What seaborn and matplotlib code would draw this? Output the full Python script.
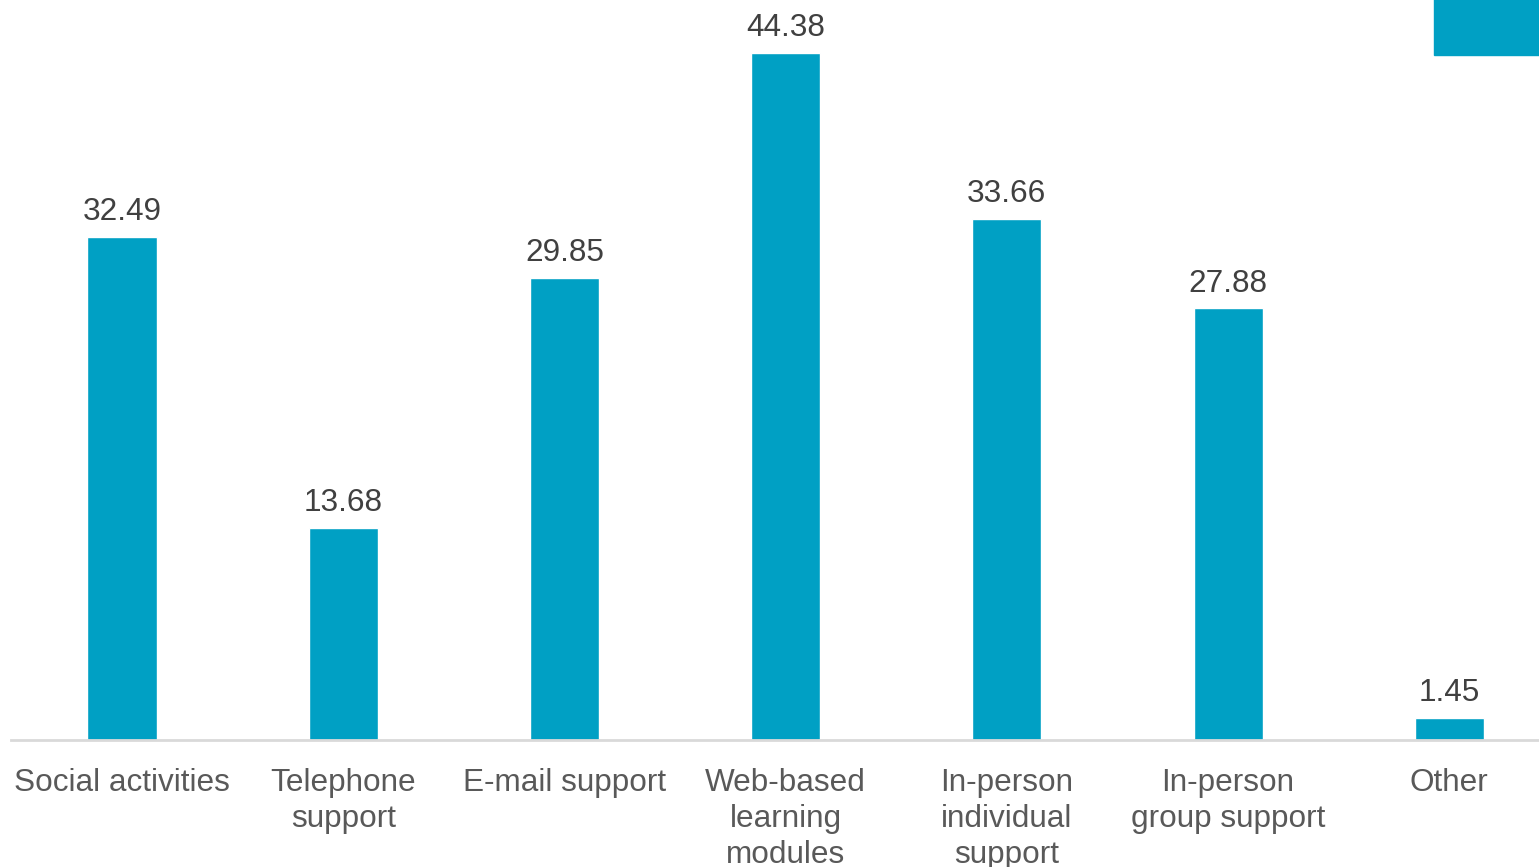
import matplotlib
matplotlib.use("Agg")
import matplotlib.pyplot as plt
from matplotlib.patches import Rectangle
import seaborn as sns
import pandas as pd

categories = ["Social activities", "Telephone\nsupport", "E-mail support",
              "Web-based\nlearning\nmodules", "In-person\nindividual\nsupport",
              "In-person\ngroup support", "Other"]
values = [32.49, 13.68, 29.85, 44.38, 33.66, 27.88, 1.45]

BAR = "#00A0C4"

sns.set_theme(style="white")
plt.rcParams["font.family"] = ["Liberation Sans", "DejaVu Sans"]

df = pd.DataFrame({"category": categories, "value": values})

fig = plt.figure(figsize=(15.39, 8.67), dpi=100)
ax = fig.add_axes([0.0074, 0.1465, 1.0062, 0.8535])

sns.barplot(data=df, x="category", y="value", color=BAR, width=0.312,
            saturation=1, ax=ax, errorbar=None)

ax.set_ylim(0, 47.8)
ax.set_xlim(-0.5, len(categories) - 0.5)
ax.bar_label(ax.containers[0], labels=[f"{v:.2f}" for v in values],
             padding=7, fontsize=22.7, color="#404040")

ax.set_xlabel("")
ax.set_ylabel("")
ax.set_yticks([])
ax.tick_params(axis="x", length=0, pad=20, labelsize=22.7, labelcolor="#595959")
for lbl in ax.get_xticklabels():
    lbl.set_linespacing(1.27)

for side in ["top", "right", "left"]:
    ax.spines[side].set_visible(False)
ax.spines["bottom"].set_color("#D9D9D9")
ax.spines["bottom"].set_linewidth(2)

# legend swatch partly outside the canvas
fig.patches.append(Rectangle((1434 / 1539, 1 - 55 / 867), 0.1, 0.1,
                             transform=fig.transFigure, color=BAR))

fig.savefig("out.png", dpi=100)
